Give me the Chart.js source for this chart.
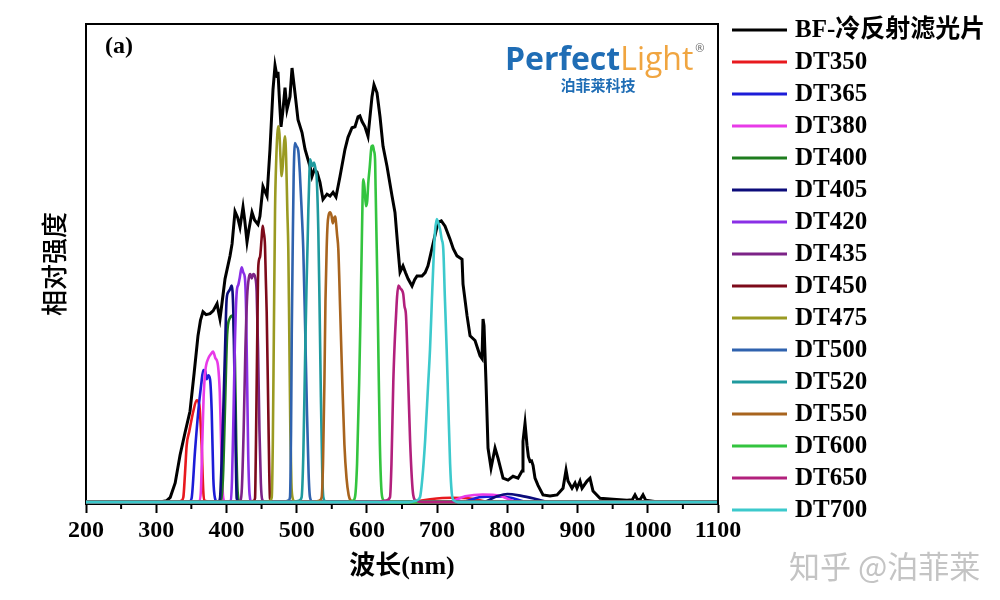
<!DOCTYPE html>
<html>
<head>
<meta charset="utf-8">
<script src="https://cdn.jsdelivr.net/npm/chart.js@4.4.0/dist/chart.umd.min.js"></script>
<style>
  html, body { margin: 0; padding: 0; background: #fff; }
  #wrap { width: 1000px; height: 600px; }
</style>
</head>
<body>
<div id="wrap"><canvas id="chart" width="1000" height="600"></canvas></div>
<script>
// spectra: [wavelength nm, relative intensity]
const BF = [[200,0],[305,0],[315,0.3],[320,1],[327,4],[333.9,9.8],[341,14.5],[348.1,19],[354,27],[359.5,34.8],[363,38],[366.6,39.8],[371,39.2],[376.6,39.4],[381,40],[386.6,41.5],[388.5,40],[390.8,38.3],[394,42],[398,46.7],[405.1,51.5],[408,54],[412.2,60.8],[416,59.5],[419.3,57.5],[423.6,61.7],[426,59],[429.3,54.4],[432,57],[436.4,60.6],[440,59],[444.9,58.1],[447.7,59.8],[452,66],[457.8,64],[462,73.8],[466.3,86.3],[469.2,91.3],[472,89],[473.4,90],[475.5,84],[477.7,78.5],[480.5,82],[483.4,86.7],[486.2,82.1],[490.5,84.8],[493.4,90.8],[497.6,85.6],[501.9,80],[507.6,77.3],[511.9,73.8],[519,70.2],[521.8,68.1],[525,69.5],[529,69],[533.2,66.9],[537.5,63.3],[543.2,64.4],[547.5,64],[551.8,64.8],[556,63.8],[561.7,68.1],[568.8,73.8],[573.1,76.3],[578.8,78.3],[583.1,78.5],[587.4,80.6],[590,80.8],[593.1,79.6],[597.3,78.5],[601.6,76.5],[604,80],[607.3,84.8],[610.1,87.3],[614.4,85.6],[618.7,80.6],[623,74.4],[628.7,70.2],[635.8,64],[640,60.6],[644.3,52.9],[647.2,48.1],[651.4,49.4],[655,48],[658.6,46.7],[664.3,45.2],[668,46.5],[671.4,47.3],[678.5,47.3],[683,48],[687,49.4],[694.2,54],[701.3,58.5],[706,58.8],[711.3,57.7],[718.4,55],[723,53],[728.3,51.5],[735.5,50.8],[736.9,45.6],[742.6,39],[746.9,34.8],[754,33.8],[761.1,30.6],[763.9,30],[765.4,38.3],[766.8,36.9],[769.6,25.2],[772.5,11.3],[776.8,7.1],[782.5,11.3],[786.7,9.2],[793.9,5],[801,4.6],[808.1,5.4],[815.2,5],[820.9,6.5],[822.3,12.7],[825.2,16.5],[828,11.9],[830,9.5],[832.3,8.5],[834.5,8.6],[836.6,7.7],[839.4,5],[843.7,3.5],[850.8,1.5],[860.8,1.3],[870.8,1.5],[879.3,2.9],[883.6,6.7],[886.4,4.4],[892.1,2.9],[896.4,4],[899.2,2.9],[903.5,4.4],[906.4,2.9],[913.5,4.4],[917.7,5],[922,2.3],[932,0.8],[950.5,0.6],[970.4,0.4],[978,0.5],[981.8,1.5],[985,0.6],[989,0.5],[993.2,1.5],[997,0.4],[1007,0.2],[1015,0],[1100,0]];

const DT350 = [[200,0],[330,0],[336,0.3],[338.6,1],[341,6],[343.4,11.9],[347.1,14.8],[352.8,19],[357.6,21.3],[361.4,20.3],[363,17],[364.7,11.9],[367,2.3],[369,0.3],[380,0],[660,0],[690,0.6],[720,0.9],[750,0.7],[775,0],[1100,0]];
const DT365 = [[200,0],[340,0],[348,0.2],[350.4,0.8],[355.2,10.6],[359.9,19],[364,24.5],[367,27.6],[369.5,27.5],[371.8,25.7],[374,26.5],[376.6,25.7],[379,19],[381.3,5],[383.7,0.8],[387,0],[735,0],[760,1],[785,1.2],[805,0.9],[830,0],[1100,0]];
const DT380 = [[200,0],[355,0],[361,0.2],[363.5,2],[365.5,12],[367.5,22],[370,27.5],[374,30],[378,31],[381,31.5],[384,30.2],[388,28.5],[390.5,23],[392,15],[393.5,6],[395.5,0.8],[398,0],[715,0],[740,1.2],[765,1.6],[790,1.3],[815,0],[1100,0]];
const DT400 = [[200,0],[385,0],[392,0.3],[395,5],[398,20],[401,35],[405,38.5],[409,39],[412,30],[414,12],[416,2],[419,0],[1100,0]];
const DT405 = [[200,0],[385,0],[389,0.2],[390.8,0.8],[393,8],[395.5,19],[398,32],[400.3,42.5],[403,44],[405,44.5],[407.5,45.3],[409.8,39.8],[411,30],[412.2,19],[413.5,8],[414.6,0.8],[418,0],[765,0],[785,1.2],[800,1.7],[820,1.3],[845,0.5],[860,0],[1100,0]];
const DT420 = [[200,0],[400,0],[406,0.3],[408,5],[410,18],[412,33],[414.6,43.9],[417,45.5],[419,47],[421.7,49.1],[424,48],[426.4,46.7],[428,40],[429.5,25],[431,10],[433,1.5],[436,0],[1100,0]];
const DT435 = [[200,0],[415,0],[420,0.3],[422,3],[424.5,15],[427,32],[429.5,43],[432,47],[434,47.7],[436,46.8],[438.2,47.7],[441,47],[443,44],[445,32],[447,15],[449,4],[451,0.5],[455,0],[1100,0]];
const DT450 = [[200,0],[435,0],[439,0.3],[440.7,0.8],[442,12],[443.5,30],[445.4,49.4],[447.8,51.3],[450,55],[451.6,57.8],[453,56.5],[454.9,53.6],[456,47],[457.3,39.8],[459.6,19],[461,6],[462,0.8],[466,0],[1100,0]];
const DT475 = [[200,0],[455,0],[462,0.3],[464.5,1],[466,12],[467.5,35],[469.2,61],[471,72],[472.5,77],[473.8,78.6],[475.5,77],[477,72],[478.7,68.2],[480.5,71],[482,75],[483.4,76.5],[485,72],[486.7,61],[488.1,52.9],[489.5,35],[491,15],[492.5,4],[494,1],[498,0],[1100,0]];
const DT500 = [[200,0],[482,0],[488,0.3],[490.5,1],[492,15],[493,35],[494.5,55],[495.7,68],[497.6,75.1],[499.5,74.5],[502.3,73.5],[504.5,69],[507.1,61],[509.4,53],[512,37],[514.5,20],[517,6],[519,1],[523,0],[1100,0]];
const DT520 = [[200,0],[495,0],[503,0.3],[507,1],[509.5,10],[512,30],[514,45],[515.7,55],[516.6,61],[518,68],[519,71.7],[522.3,70.3],[524.7,71],[527,69.5],[528.5,68],[530.8,57],[532.5,42],[534.5,22],[536.5,6],[538,1],[542,0],[1100,0]];
const DT550 = [[200,0],[525,0],[532,0.3],[535.6,1],[537.5,8],[539.5,25],[541,42],[542.7,53],[544,58],[545.5,60],[547.5,60.6],[549.5,60],[551.5,58.3],[553.5,59.5],[555,59.7],[556,58.5],[557.5,56],[559.3,52.9],[562,40],[565,25],[568,12],[571,5],[574,1.5],[577,0.3],[582,0],[1100,0]];
const DT600 = [[200,0],[570,0],[580,0.3],[583,1],[586,8],[589,25],[591,40],[592.6,53],[593.8,63],[594.8,67.5],[596.5,66],[598.7,61.9],[600.5,63],[602,66.8],[604,70],[606.7,74.4],[608.5,74.6],[610,73.5],[611.6,71.7],[612.5,65],[613.5,57],[615,45],[616.5,30],[618.5,12],[620.5,3],[623,0.5],[628,0],[1100,0]];
const DT650 = [[200,0],[615,0],[627,0.3],[632.9,1],[635,8],[637.6,25],[639.5,33],[641.5,39],[643,43],[644.8,45.3],[646.5,45],[648,44.6],[650,44.3],[651.8,43.5],[653.5,41],[655.7,39],[658.9,25],[661.5,13],[664,5],[666,1.5],[670,0.3],[680,0],[1100,0]];
const DT700 = [[200,0],[660,0],[670,0.3],[675.6,1],[679,5],[683,13],[687,24],[689.9,32],[692.5,42],[695,51],[697,56.5],[699.4,59.2],[701.5,58.5],[704.1,57.1],[706.5,55],[708.8,52.9],[711,43],[713.6,32],[716,20],[718.5,8],[720.8,2],[724,0.3],[730,0],[1100,0]];

const seriesLabels = ['BF-冷反射滤光片', 'DT350', 'DT365', 'DT380', 'DT400', 'DT405', 'DT420', 'DT435', 'DT450', 'DT475', 'DT500', 'DT520', 'DT550', 'DT600', 'DT650', 'DT700'];
const seriesData = [BF, DT350, DT365, DT380, DT400, DT405, DT420, DT435, DT450, DT475, DT500, DT520, DT550, DT600, DT650, DT700];
const seriesColors = ['#000000', '#e8191e', '#1c1cd8', '#e83ae8', '#1e7d1e', '#0c0c7a', '#8a2fe6', '#7c2387', '#7d0a1a', '#9a9a22', '#2f62ae', '#1f9a9e', '#a8641e', '#33c43f', '#b2207c', '#3cc9cc'];
const minorTicks = [250, 350, 450, 550, 650, 750, 850, 950, 1050];

const serif = '"Liberation Serif", "Times New Roman", "Noto Sans CJK SC", serif';
const cjk = '"Noto Sans CJK SC", sans-serif';

const extras = {
    id: 'extras',
    afterDraw(chart) {
        const { ctx, chartArea: a, scales: { x } } = chart;
        ctx.save();
        // top and right frame
        ctx.strokeStyle = '#000';
        ctx.lineWidth = 2;
        ctx.beginPath();
        ctx.moveTo(a.left, a.top);
        ctx.lineTo(a.right, a.top);
        ctx.lineTo(a.right, a.bottom);
        ctx.stroke();
        // minor ticks
        minorTicks.forEach(v => {
            const px = x.getPixelForValue(v);
            ctx.beginPath();
            ctx.moveTo(px, a.bottom);
            ctx.lineTo(px, a.bottom + 5);
            ctx.stroke();
        });

        // legend
        ctx.textBaseline = 'middle';
        ctx.textAlign = 'left';
        ctx.font = 'bold 25px ' + serif;
        chart.data.datasets.forEach((ds, i) => {
            const y = a.top + 6 + i * 32;
            ctx.strokeStyle = ds.borderColor;
            ctx.lineWidth = 3;
            ctx.beginPath();
            ctx.moveTo(a.right + 14, y);
            ctx.lineTo(a.right + 69, y);
            ctx.stroke();
            ctx.fillStyle = '#000';
            ctx.fillText(ds.label, a.right + 77, y + 1);
        });

        // panel label
        ctx.font = 'bold 24px ' + serif;
        ctx.fillText('(a)', a.left + 19, 47);

        // logo
        ctx.textBaseline = 'alphabetic';
        ctx.font = 'bold 32px "Open Sans", sans-serif';
        ctx.fillStyle = '#1f6db5';
        ctx.fillText('Perfect', 505, 70);
        const w = ctx.measureText('Perfect').width;
        ctx.font = '32px "Open Sans", sans-serif';
        ctx.fillStyle = '#f0a540';
        ctx.fillText('Light', 505 + w, 70);
        const w2 = ctx.measureText('Light').width;
        ctx.font = '11px "Open Sans", sans-serif';
        ctx.fillStyle = '#666';
        ctx.fillText('®', 505 + w + w2 + 2, 52);
        ctx.font = 'bold 15px ' + cjk;
        ctx.fillStyle = '#1f6db5';
        ctx.textAlign = 'center';
        ctx.textBaseline = 'middle';
        ctx.fillText('泊菲莱科技', 598, 85);

        // watermark
        ctx.textAlign = 'left';
        ctx.font = '31px ' + cjk;
        ctx.fillStyle = '#c4c4c4';
        ctx.fillText('知乎 @泊菲莱', 789, 566);
        ctx.restore();
    }
};

new Chart(document.getElementById('chart'), {
    type: 'line',
    data: {
        datasets: seriesData.map((s, i) => ({
            label: seriesLabels[i],
            data: s.map(([x, y]) => ({ x, y })),
            borderColor: seriesColors[i],
            backgroundColor: seriesColors[i],
            borderWidth: i === 0 ? 3 : 2.6,
            pointRadius: 0,
            cubicInterpolationMode: i === 0 ? 'default' : 'monotone',
            tension: 0,
            fill: false,
            order: -i,
            clip: false
        }))
    },
    options: {
        responsive: false,
        animation: false,
        devicePixelRatio: 1,
        layout: { padding: { top: 24, right: 282, left: 0, bottom: 0 } },
        plugins: {
            legend: { display: false },
            tooltip: { enabled: false }
        },
        scales: {
            x: {
                type: 'linear',
                min: 200,
                max: 1100,
                ticks: {
                    stepSize: 100,
                    color: '#000',
                    padding: 3,
                    maxRotation: 0,
                    font: { family: serif, size: 24, weight: 'bold' },
                    callback: v => String(v)
                },
                grid: { display: true, drawOnChartArea: false, drawTicks: true, tickLength: 9, tickWidth: 2, tickColor: '#000' },
                border: { display: true, color: '#000', width: 2 },
                title: {
                    display: true,
                    text: '波长(nm)',
                    color: '#000',
                    font: { family: serif, size: 26, weight: 'bold' },
                    padding: { top: 0, bottom: 17 }
                },
                afterFit(scale) { scale.height = 96; }
            },
            y: {
                min: -0.4,
                max: 100,
                ticks: { display: false },
                grid: { display: false, drawTicks: false },
                border: { display: true, color: '#000', width: 2 },
                title: {
                    display: true,
                    text: '相对强度',
                    color: '#000',
                    font: { family: cjk, size: 26, weight: '500' },
                    padding: { top: 39, bottom: 0 }
                },
                afterFit(scale) { scale.width = 86; }
            }
        }
    },
    plugins: [extras]
});
</script>
</body>
</html>
